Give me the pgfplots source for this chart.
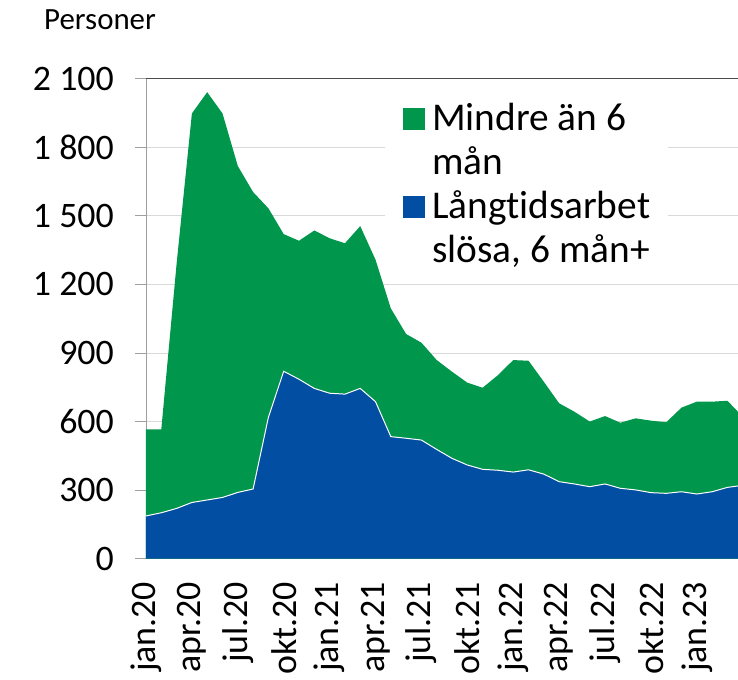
\documentclass[border=0pt]{standalone}
\usepackage{fontspec}
\setmainfont{Carlito}[Ligatures=NoCommon]
\usepackage{pgfplots}
\usepackage{pgfplotstable}
\pgfplotsset{compat=1.18}
\definecolor{sgreen}{RGB}{0,150,76}
\definecolor{sblue}{RGB}{2,78,162}

\pgfplotstableread{
m long short
0 187 379
1 201 365
2 220 1070
3 246 1702
4 257 1784
5 268 1680
6 290 1428
7 305 1299
8 619 914
9 820 600
10 785 606
11 745 691
12 724 678
13 720 660
14 745 710
15 687 621
16 534 561
17 527 456
18 519 426
19 478 391
20 439 379
21 410 360
22 391 357
23 387 416
24 379 490
25 389 477
26 370 404
27 337 343
28 327 316
29 315 285
30 327 297
31 308 287
32 301 313
33 289 315
34 286 311
35 293 368
36 283 404
37 293 394
38 312 379
39 321 300
}\data

\begin{document}
\begin{tikzpicture}
\path[use as bounding box] (-146bp,-121.3bp) rectangle (592bp,558.7bp);
\begin{axis}[
  scale only axis, width=592bp, height=480bp,
  xmin=0, xmax=38.69, ymin=0, ymax=2100,
  axis x line*=bottom, axis y line*=left,
  axis line style={draw=gray!75, line width=0.8bp, -},
  tick align=outside,
  ytick={0,300,...,2100},
  yticklabels={0,300,600,900,1 200,1 500,1 800,2 100},
  ymajorgrids, major grid style={draw=gray!30, line width=0.8bp},
  major tick length=11bp, minor tick length=8bp,
  ytick style={draw=gray!75, line width=0.8bp},
  xtick={0,3,...,36},
  xticklabels={jan.20,apr.20,jul.20,okt.20,jan.21,apr.21,jul.21,okt.21,jan.22,apr.22,jul.22,okt.22,jan.23},
  minor xtick={0,1,...,38},
  xtick style={draw=none},
  minor tick style={draw=gray!75, line width=0.8bp},
  ticklabel style={font=\fontsize{36}{43}\selectfont, inner sep=0bp},
  yticklabel style={anchor=east, xshift=-21bp},
  xticklabel style={yshift=-12bp, rotate=90, anchor=east},
  extra y ticks={2100}, extra y tick labels={},
  extra y tick style={major grid style={draw=black!70, line width=0.8bp}},
  legend style={at={(rel axis cs:0.4037,0.966)}, anchor=north west, draw=none, fill=white,
    inner xsep=18bp, inner ysep=4bp, font=\fontsize{39.5}{44}\selectfont,
    nodes={inner sep=0bp, anchor=base west, text height=31bp, text depth=13bp},
    column sep=7bp, row sep=0bp},
  legend cell align=left,
  legend image code/.code={\fill[#1] (0bp,0bp) rectangle (22bp,22bp);},
]
\addplot[fill=sgreen, draw=none] table[x=m, y expr=\thisrow{long}+\thisrow{short}] {\data} \closedcycle;
\addlegendentry{Mindre än 6}
\addlegendimage{empty legend}
\addlegendentry{mån}
\addplot[fill=sblue, draw=none] table[x=m, y=long] {\data} \closedcycle;
\addlegendentry{Långtidsarbet}
\addlegendimage{empty legend}
\addlegendentry{slösa, 6 mån+}
\addplot[white, line width=1bp, forget plot] table[x=m, y=long] {\data};
\end{axis}
\node[anchor=base west, font=\fontsize{31}{36}\selectfont, inner sep=0bp] at (-102bp,528.7bp) {Personer};
\end{tikzpicture}
\end{document}
